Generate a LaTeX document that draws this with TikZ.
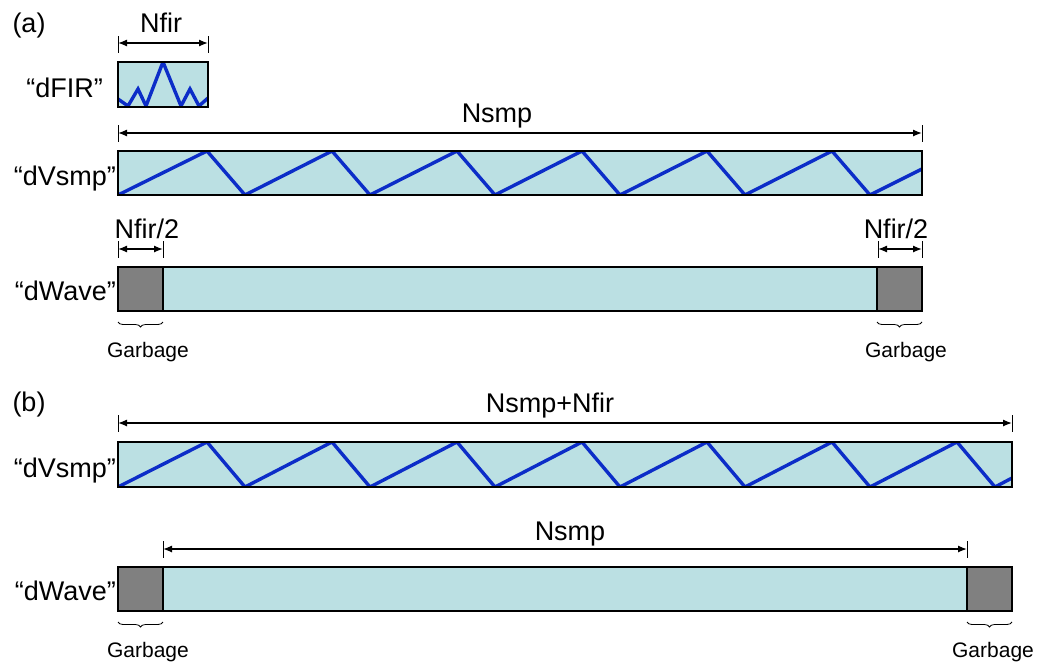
\documentclass[tikz,border=0pt]{standalone}
\usepackage{fontspec}
\setmainfont{Liberation Sans}
\usetikzlibrary{arrows.meta,decorations.pathreplacing}
\definecolor{cellfill}{RGB}{187,224,227}
\definecolor{padfill}{RGB}{128,128,128}
\definecolor{wave}{RGB}{12,45,200}

\begin{document}
\begin{tikzpicture}[x=1pt,y=-1pt,
  buf/.style={draw=black, line width=2.4pt, fill=cellfill, inner sep=0pt, outer sep=0pt, anchor=north west},
  pad/.style={buf, fill=padfill},
  frame/.style={draw=black, line width=2.4pt},
  sig/.style={draw=wave, line width=3.4pt, line join=miter},
  dimarrow/.style={line width=1.3pt, {Latex[length=9pt,width=7pt]}-{Latex[length=9pt,width=7pt]}},
  tickmark/.style={line width=0.9pt},
  lbl/.style={font=\fontsize{27}{30}\selectfont, inner sep=0pt},
  note/.style={font=\fontsize{21}{24}\selectfont, inner sep=0pt},
  brc/.style={decorate, decoration={brace, mirror, amplitude=5pt}, line width=0.8pt}
]
\useasboundingbox (0,0) rectangle (1037,662);

% ---------------- part (a) ----------------
\node[lbl, anchor=base] (tagA) at (29,32) {(a)};

% filter kernel buffer
\node[buf, minimum width=90pt, minimum height=45pt] (fir) at (118,62) {};
\begin{scope}
  \clip (fir.north west) rectangle (fir.south east);
  \draw[sig] (118,99) -- (128,106) -- (138,89) -- (146,106) -- (163,62)
             -- (181,106) -- (190,89) -- (199,106) -- (208,98);
\end{scope}
\draw[frame] (fir.north west) rectangle (fir.south east);
\node[lbl, anchor=base east] (firname) at (103,97) {“dFIR”};

\coordinate (nfirL) at (118,43);
\coordinate (nfirR) at (208,43);
\draw[tickmark] ([yshift=7pt]nfirL) -- ([yshift=-10pt]nfirL);
\draw[tickmark] ([yshift=7pt]nfirR) -- ([yshift=-10pt]nfirR);
\draw[dimarrow] (nfirL) -- (nfirR);
\node[lbl, anchor=base] (nfirtxt) at (161,32) {Nfir};

% sample buffer
\node[buf, minimum width=804pt, minimum height=44pt] (vsA) at (118,151) {};
\begin{scope}
  \clip (vsA.north west) rectangle (vsA.south east);
  \draw[sig] (118,195) -- (207,151) -- (245,195) -- (332,151) -- (370,195)
             -- (457,151) -- (495,195) -- (582,151) -- (620,195) -- (707,151)
             -- (745,195) -- (832,151) -- (870,195) -- (922,169);
\end{scope}
\draw[frame] (vsA.north west) rectangle (vsA.south east);
\node[lbl, anchor=base east] (vsAname) at (116,185) {“dVsmp”};

\coordinate (nsA1) at (118,133);
\coordinate (nsA2) at (922,133);
\draw[tickmark] ([yshift=8pt]nsA1) -- ([yshift=-9pt]nsA1);
\draw[tickmark] ([yshift=8pt]nsA2) -- ([yshift=-9pt]nsA2);
\draw[dimarrow] (nsA1) -- (nsA2);
\node[lbl, anchor=base] (nsAtxt) at (497,122) {Nsmp};

% output buffer
\node[buf, minimum width=804pt, minimum height=44pt] (wvA) at (118,267) {};
\node[pad, minimum width=45pt, minimum height=44pt] (gA1) at (118,267) {};
\node[pad, minimum width=45pt, minimum height=44pt] (gA2) at (877,267) {};
\node[lbl, anchor=base east] (wvAname) at (116,300) {“dWave”};

\coordinate (hA1) at (118,249);
\coordinate (hA2) at (163,249);
\coordinate (hA3) at (878,249);
\coordinate (hA4) at (922,249);
\foreach \c in {hA1,hA2,hA3,hA4}
  \draw[tickmark] ([yshift=8pt]\c) -- ([yshift=-9pt]\c);
\draw[dimarrow] (hA1) -- (hA2);
\draw[dimarrow] (hA3) -- (hA4);
\node[lbl, anchor=base] (hAtxt1) at (147,238) {Nfir/2};
\node[lbl, anchor=base] (hAtxt2) at (896,238) {Nfir/2};

\draw[brc] ([yshift=-11pt]gA1.south west) -- ([yshift=-11pt]gA1.south east);
\draw[brc] ([yshift=-11pt]gA2.south west) -- ([yshift=-11pt]gA2.south east);
\node[note, anchor=base] (gbA1) at (148,357) {Garbage};
\node[note, anchor=base] (gbA2) at (906,357) {Garbage};

% ---------------- part (b) ----------------
\node[lbl, anchor=base] (tagB) at (29,411) {(b)};

\node[buf, minimum width=894pt, minimum height=45pt] (vsB) at (118,442) {};
\begin{scope}
  \clip (vsB.north west) rectangle (vsB.south east);
  \draw[sig] (118,487) -- (207,442) -- (245,487) -- (332,442) -- (370,487)
             -- (457,442) -- (495,487) -- (582,442) -- (620,487) -- (707,442)
             -- (745,487) -- (832,442) -- (870,487) -- (957,442) -- (995,487)
             -- (1012,478);
\end{scope}
\draw[frame] (vsB.north west) rectangle (vsB.south east);
\node[lbl, anchor=base east] (vsBname) at (116,477) {“dVsmp”};

\coordinate (nnB1) at (118,423);
\coordinate (nnB2) at (1012,423);
\draw[tickmark] ([yshift=8pt]nnB1) -- ([yshift=-9pt]nnB1);
\draw[tickmark] ([yshift=8pt]nnB2) -- ([yshift=-9pt]nnB2);
\draw[dimarrow] (nnB1) -- (nnB2);
\node[lbl, anchor=base] (nnBtxt) at (550,412) {Nsmp+Nfir};

\node[buf, minimum width=894pt, minimum height=44pt] (wvB) at (118,567) {};
\node[pad, minimum width=45pt, minimum height=44pt] (gB1) at (118,567) {};
\node[pad, minimum width=45pt, minimum height=44pt] (gB2) at (967,567) {};
\node[lbl, anchor=base east] (wvBname) at (116,600) {“dWave”};

\coordinate (nsB1) at (163,549);
\coordinate (nsB2) at (967,549);
\draw[tickmark] ([yshift=8pt]nsB1) -- ([yshift=-9pt]nsB1);
\draw[tickmark] ([yshift=8pt]nsB2) -- ([yshift=-9pt]nsB2);
\draw[dimarrow] (nsB1) -- (nsB2);
\node[lbl, anchor=base] (nsBtxt) at (570,540) {Nsmp};

\draw[brc] ([yshift=-11pt]gB1.south west) -- ([yshift=-11pt]gB1.south east);
\draw[brc] ([yshift=-11pt]gB2.south west) -- ([yshift=-11pt]gB2.south east);
\node[note, anchor=base] (gbB1) at (148,657) {Garbage};
\node[note, anchor=base] (gbB2) at (993,657) {Garbage};

\end{tikzpicture}
\end{document}
